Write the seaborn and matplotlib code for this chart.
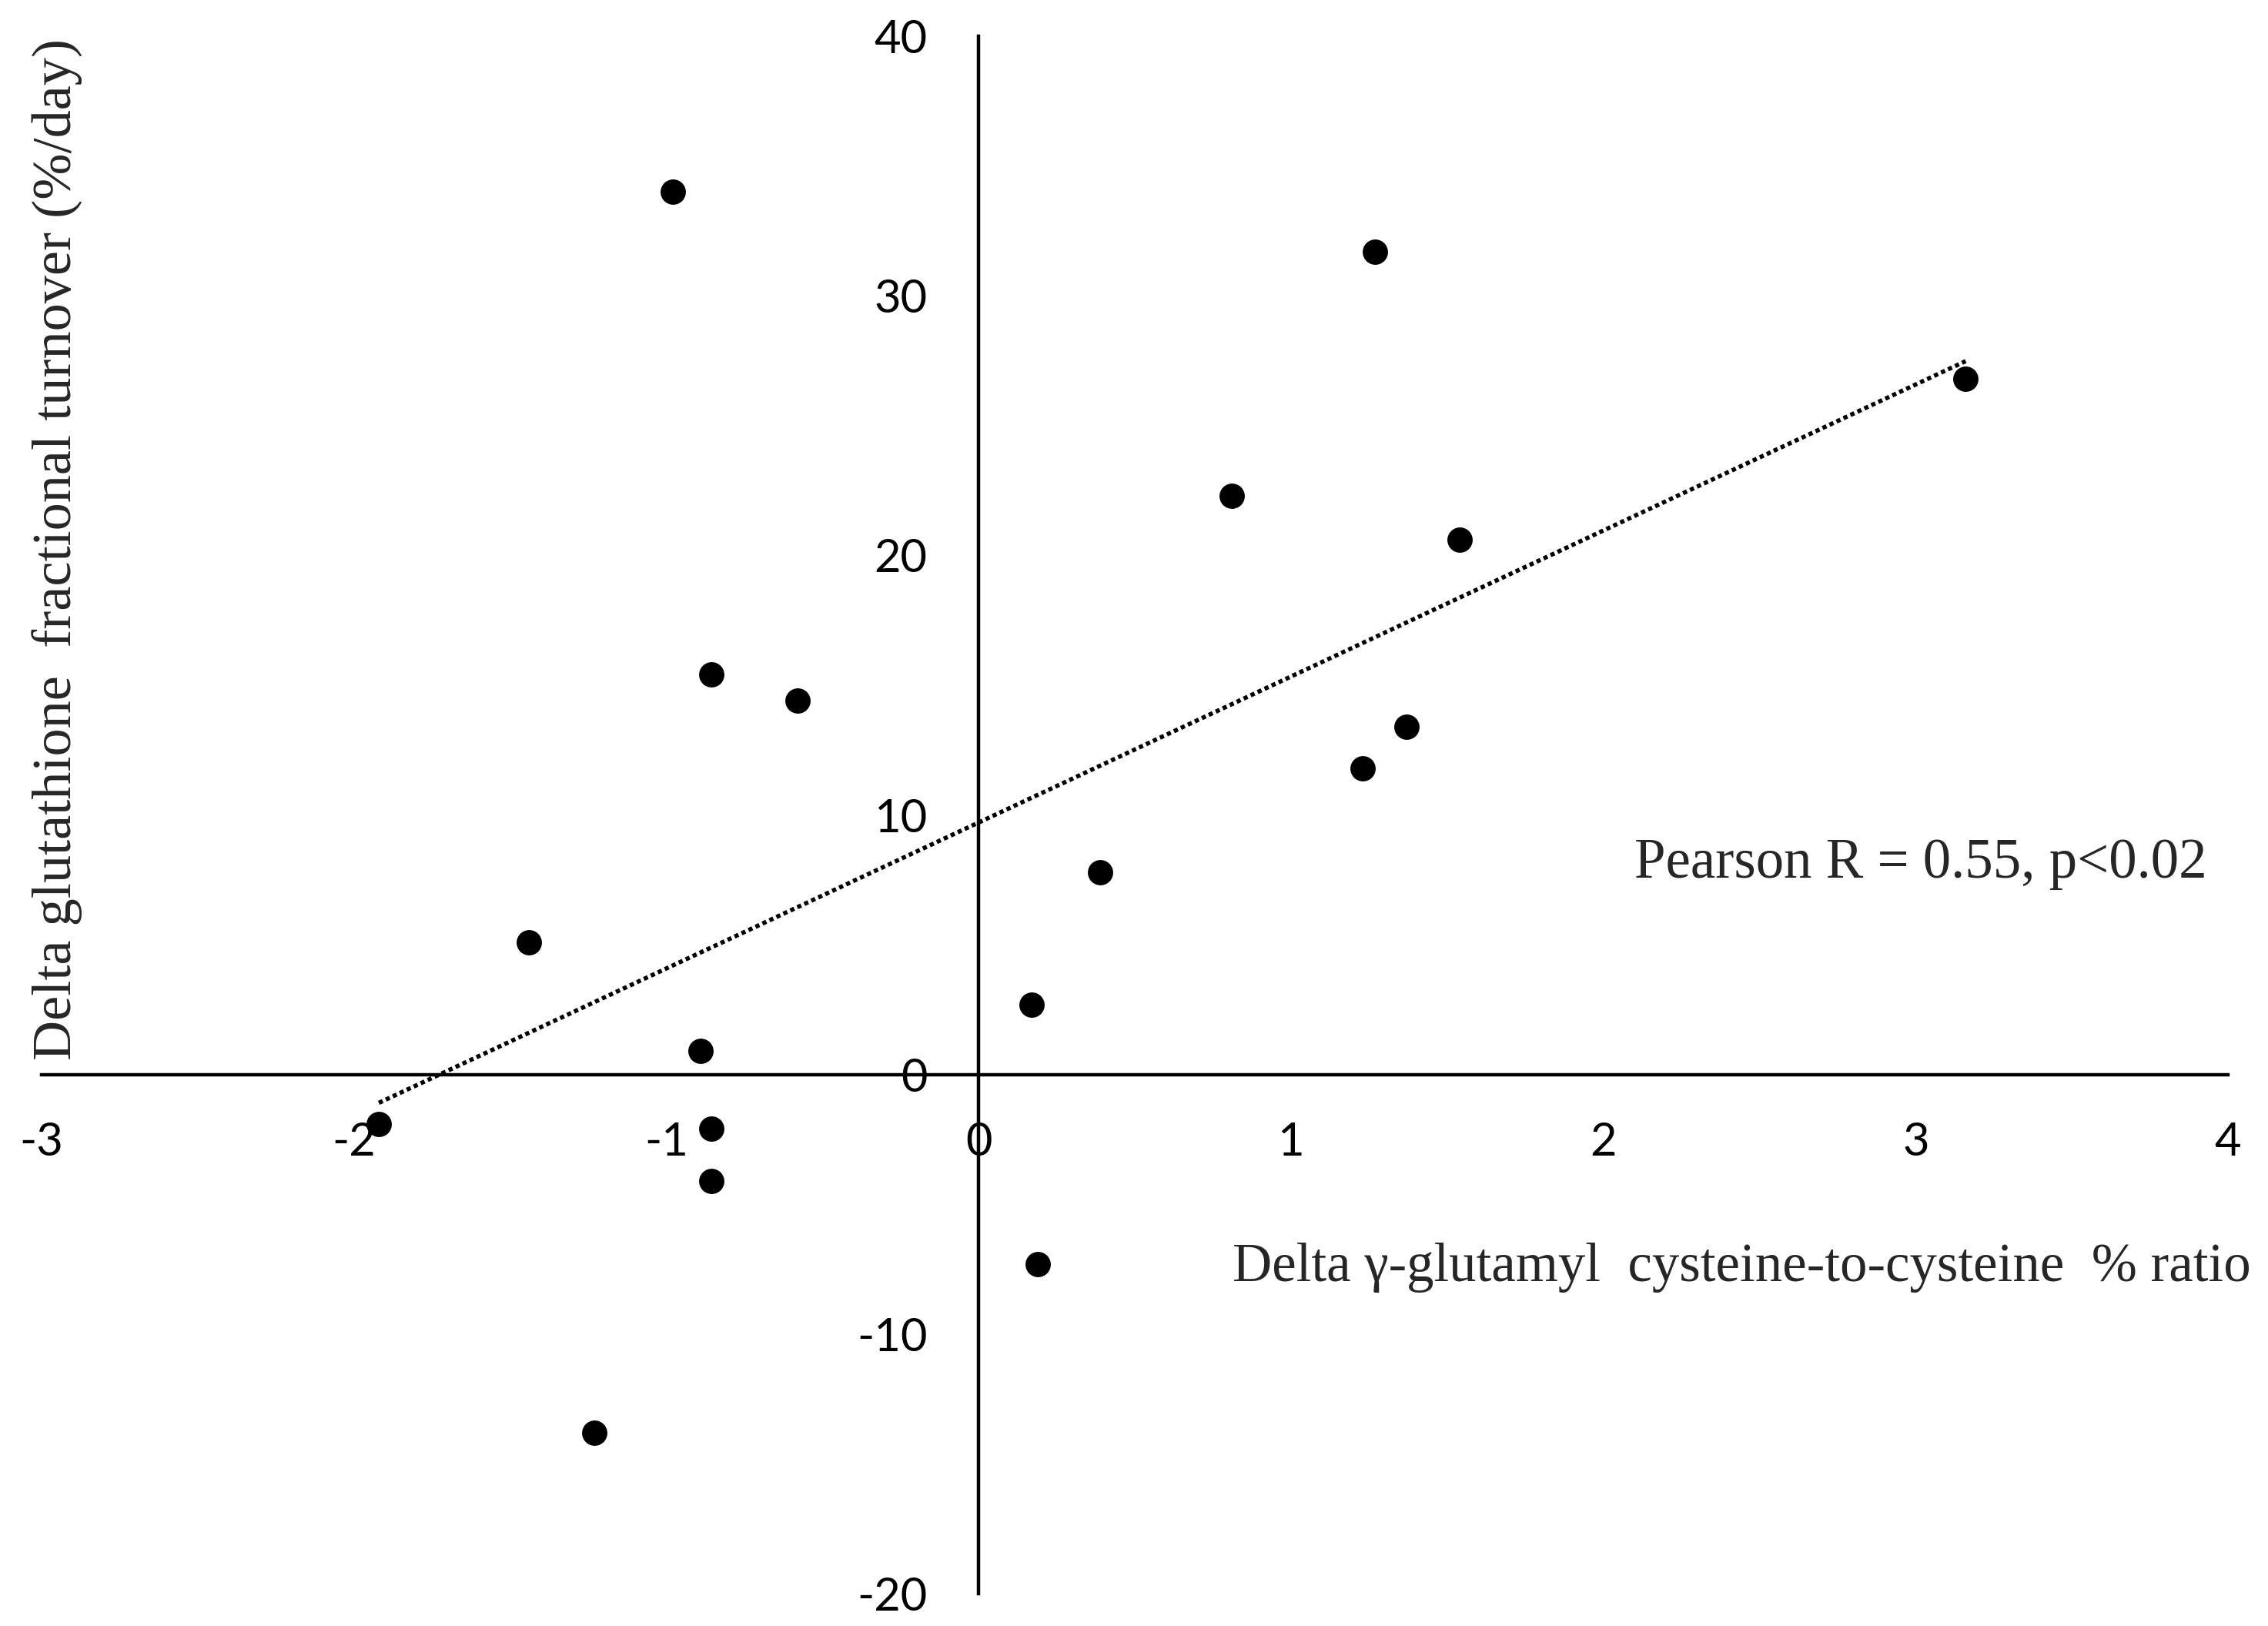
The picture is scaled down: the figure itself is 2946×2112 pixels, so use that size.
import matplotlib
matplotlib.use("Agg")
import matplotlib.pyplot as plt
import pandas as pd
import seaborn as sns

# values
delta_gc_ratio = [-0.98, 1.27, 3.16, 0.81, 1.54, -0.855, -0.58, 1.37, 1.23,
                  0.39, -1.44, 0.17, -0.89, -1.92, -0.855, -0.855, 0.19, -1.23]
delta_gsh_turnover = [34.0, 31.7, 26.8, 22.3, 20.6, 15.4, 14.4, 13.4, 11.8,
                      7.8, 5.1, 2.7, 0.9, -1.9, -2.1, -4.1, -7.3, -13.8]
x_ticks = [-3, -2, -1, 0, 1, 2, 3, 4]
y_ticks = [-20, -10, 0, 10, 20, 30, 40]

x_label = "Delta \u03b3-glutamyl  cysteine-to-cysteine  % ratio"
y_label = "Delta glutathione  fractional turnover (%/day)"
stat_text = "Pearson R = 0.55, p<0.02"

df = pd.DataFrame({"gc": delta_gc_ratio, "gsh": delta_gsh_turnover})

sns.set_style("white")
plt.rcParams["font.family"] = ["Lato", "DejaVu Sans"]
plt.rcParams["axes.unicode_minus"] = False

fig = plt.figure(figsize=(29.46, 21.12), dpi=100)
ax = fig.add_axes([0.0183, 0.0199, 0.9641, 0.9578])

sns.regplot(data=df, x="gc", y="gsh", ax=ax, ci=None, color="black",
            scatter_kws={"s": 560, "linewidths": 0, "alpha": 1},
            line_kws={"linestyle": (0, (1, 0.8)), "linewidth": 4,
                      "color": "black"})

ax.set_xlim(-3, 4)
ax.set_ylim(-20, 40)
ax.set_xticks(x_ticks)
ax.set_yticks(y_ticks)
ax.set_xlabel("")
ax.set_ylabel("")

# axes crossing at the origin
ax.spines["left"].set_position(("data", 0))
ax.spines["bottom"].set_position(("data", 0))
ax.spines["right"].set_visible(False)
ax.spines["top"].set_visible(False)
for s in ("left", "bottom"):
    ax.spines[s].set_linewidth(3.2)
    ax.spines[s].set_color("black")

ax.tick_params(axis="both", direction="out", length=14, width=3.2,
               colors="black", labelsize=43)
ax.tick_params(axis="x", pad=30)
ax.tick_params(axis="y", pad=34)

serif = ["Liberation Serif", "DejaVu Serif"]
fig.text(0.7207, 0.4688, stat_text, fontsize=52.5, family=serif,
         ha="left", va="center")
fig.text(0.5435, 0.2206, x_label, fontsize=51, family=serif,
         ha="left", va="center")
fig.text(0.0255, 0.662, y_label, fontsize=52, family=serif,
         rotation=90, ha="center", va="center")

fig.savefig("out.png", dpi=100, facecolor="white")
